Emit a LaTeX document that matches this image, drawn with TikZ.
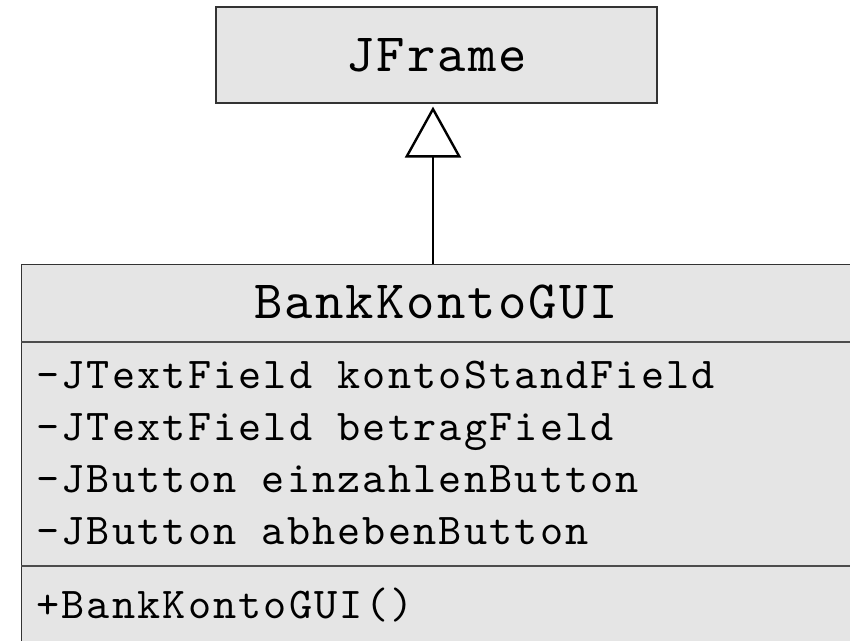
\documentclass[tikz,border=0pt]{standalone}
\usepackage{fontspec}
\newfontfamily\umlname[LetterSpace=4]{lmmono10-regular.otf}
\newfontfamily\umlmember[LetterSpace=5]{lmmono10-regular.otf}
\usetikzlibrary{positioning,arrows.meta}

\begin{document}
\begin{tikzpicture}[x=1pt,y=-1pt,
  classbox/.style={draw=black!80, line width=1.2pt, fill=black!10, inner sep=0pt},
  classname/.style={font=\umlname\fontsize{54}{64}\selectfont, inner sep=0pt},
  member/.style={font=\umlmember\fontsize{44}{54}\selectfont, inner sep=0pt, text height=30pt, text depth=10pt},
  separator/.style={draw=black!70, line width=1.2pt},
  inherit/.style={-{Triangle[open,length=51pt,width=56pt]}, line width=2.4pt, shorten >=3pt}]
\useasboundingbox (0,0) rectangle (850,640);
\clip (0,0) rectangle (850,640);
% superclass
\node[classbox, classname, minimum width=441pt, minimum height=96pt] (frame) at (436.5,55) {JFrame};
% class with its compartments
\node[classbox, anchor=north west, minimum width=900pt, minimum height=420pt] (gui) at (21,264) {};
\draw[separator] ([yshift=-78pt]gui.north west) -- ([yshift=-78pt]gui.north east);
\draw[separator] ([yshift=-302pt]gui.north west) -- ([yshift=-302pt]gui.north east);
\node[classname, anchor=base] (guiname) at (436,318) {BankKontoGUI};
\node[member, anchor=base west] (f1) at (36,388) {-JTextField kontoStandField};
\node[member, below=11.7pt of f1.south west, anchor=north west] (f2) {-JTextField betragField};
\node[member, below=11.7pt of f2.south west, anchor=north west] (f3) {-JButton einzahlenButton};
\node[member, below=11.7pt of f3.south west, anchor=north west] (f4) {-JButton abhebenButton};
\node[member, anchor=base west] (m1) at (36,618) {+BankKontoGUI()};
% generalisation
\draw[inherit] ([xshift=-3.5pt]frame.south |- gui.north) -- ([xshift=-3.5pt]frame.south);
\end{tikzpicture}
\end{document}
